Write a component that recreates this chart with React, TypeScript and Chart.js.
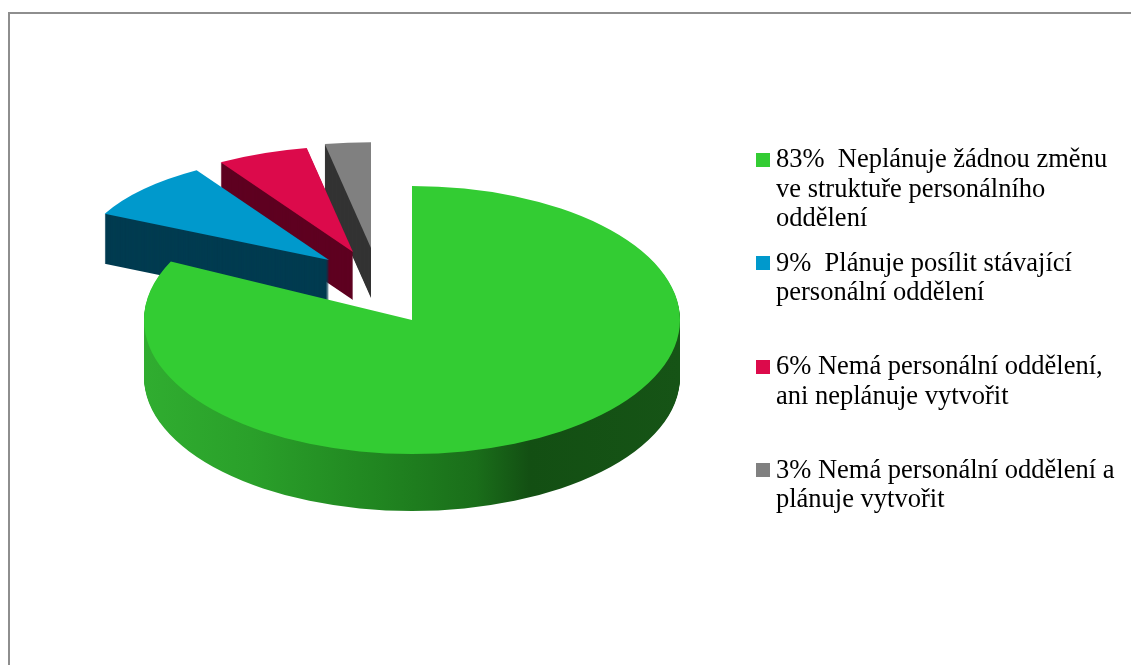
import React, { useEffect, useRef } from "react";
import { Chart, registerables } from "chart.js";

Chart.register(...registerables);

// ---- data ----
const categories = [
  "Neplánuje žádnou změnu ve struktuře personálního oddělení",
  "Plánuje posílit stávající personální oddělení",
  "Nemá personální oddělení, ani neplánuje vytvořit",
  "Nemá personální oddělení a plánuje vytvořit",
];
const values = [83, 9, 6, 3];
const legendLines = [
  ["83%  Neplánuje žádnou změnu", "ve struktuře personálního", "oddělení"],
  ["9%  Plánuje posílit stávající", "personální oddělení"],
  ["6% Nemá personální oddělení,", "ani neplánuje vytvořit"],
  ["3% Nemá personální oddělení a", "plánuje vytvořit"],
];

// ---- styles ----
const topColors = ["#33cc33", "#0099cc", "#dc0a4b", "#808080"];
const sideColors = ["", "#003b50", "#5e0020", "#333333"];
const explode = [
  [0, 0],
  [-83, -60],
  [-59, -68],
  [-41, -72],
];
const shrink = [
  [1, 1],
  [0.93, 0.79],
  [0.93, 0.79],
  [0.93, 0.79],
];
const depths = [57, 50, 48, 50];
const TILT = 134 / 268;
const legendCenters = [159.5, 263, 366.5, 470];

const pie3d = {
  id: "pie3d",
  beforeDatasetsDraw(chart: any) {
    const ctx: CanvasRenderingContext2D = chart.ctx;
    const arcs = chart.getDatasetMeta(0).data as any[];
    const order = [3, 2, 1, 0];
    for (const i of order) {
      const el = arcs[i];
      if (!el) continue;
      const p = el.getProps(["x", "y", "startAngle", "endAngle", "outerRadius"], true);
      const cx = p.x + explode[i][0];
      const cy = p.y + explode[i][1];
      const sx = shrink[i][0];
      const sy = TILT * shrink[i][1];
      const path = (dy: number) => {
        ctx.save();
        ctx.translate(cx, cy + dy);
        ctx.scale(sx, sy);
        ctx.beginPath();
        ctx.moveTo(0, 0);
        ctx.arc(0, 0, p.outerRadius, p.startAngle, p.endAngle);
        ctx.closePath();
        ctx.restore();
      };
      let side: any = sideColors[i];
      if (i === 0) {
        const g = ctx.createLinearGradient(p.x - p.outerRadius, 0, p.x + p.outerRadius, 0);
        g.addColorStop(0, "#30ad30");
        g.addColorStop(0.2, "#2aa02a");
        g.addColorStop(0.45, "#208420");
        g.addColorStop(0.62, "#1a6e1a");
        g.addColorStop(0.72, "#134f13");
        g.addColorStop(1, "#165416");
        side = g;
      }
      ctx.save();
      for (let d = depths[i]; d >= 1; d -= 1) {
        path(d);
        ctx.fillStyle = side;
        ctx.fill();
      }
      path(0);
      ctx.fillStyle = topColors[i];
      ctx.fill();
      ctx.restore();
    }
    return false;
  },
};

export default function App() {
  const canvasRef = useRef<HTMLCanvasElement | null>(null);

  useEffect(() => {
    if (!canvasRef.current) return;
    const chart = new Chart(canvasRef.current, {
      type: "pie",
      data: {
        labels: categories,
        datasets: [
          {
            data: values,
            backgroundColor: topColors,
            borderWidth: 0,
            hoverOffset: 0,
            offset: 0,
          },
        ],
      },
      options: {
        responsive: false,
        animation: false,
        devicePixelRatio: 1,
        events: [],
        layout: { padding: { left: 144, right: 451, top: 52, bottom: 77 } },
        plugins: {
          legend: { display: false },
          tooltip: { enabled: false },
        },
      },
      plugins: [pie3d],
    });
    return () => chart.destroy();
  }, []);

  return (
    <div
      style={{
        position: "absolute",
        left: 0,
        top: 0,
        width: 1131,
        height: 665,
        overflow: "hidden",
        background: "#ffffff",
      }}
    >
      <div
        style={{
          position: "absolute",
          left: 8,
          top: 12,
          width: 1200,
          height: 700,
          borderLeft: "2px solid #8e8e8e",
          borderTop: "2px solid #8e8e8e",
        }}
      />
      <canvas
        ref={canvasRef}
        width={1131}
        height={665}
        style={{ position: "absolute", left: 0, top: 0, width: 1131, height: 665 }}
      />
      {legendLines.map((lines, i) => (
        <div key={i}>
          <div
            style={{
              position: "absolute",
              left: 756,
              top: legendCenters[i] - 7,
              width: 14,
              height: 14,
              background: topColors[i],
            }}
          />
          <div
            style={{
              position: "absolute",
              left: 776,
              top: legendCenters[i] - 15.5,
              fontFamily: '"Liberation Serif", "Times New Roman", serif',
              fontSize: 26.5,
              lineHeight: "29.5px",
              color: "#000",
              whiteSpace: "pre",
            }}
          >
            {lines.map((l, j) => (
              <div key={j}>{l}</div>
            ))}
          </div>
        </div>
      ))}
    </div>
  );
}
